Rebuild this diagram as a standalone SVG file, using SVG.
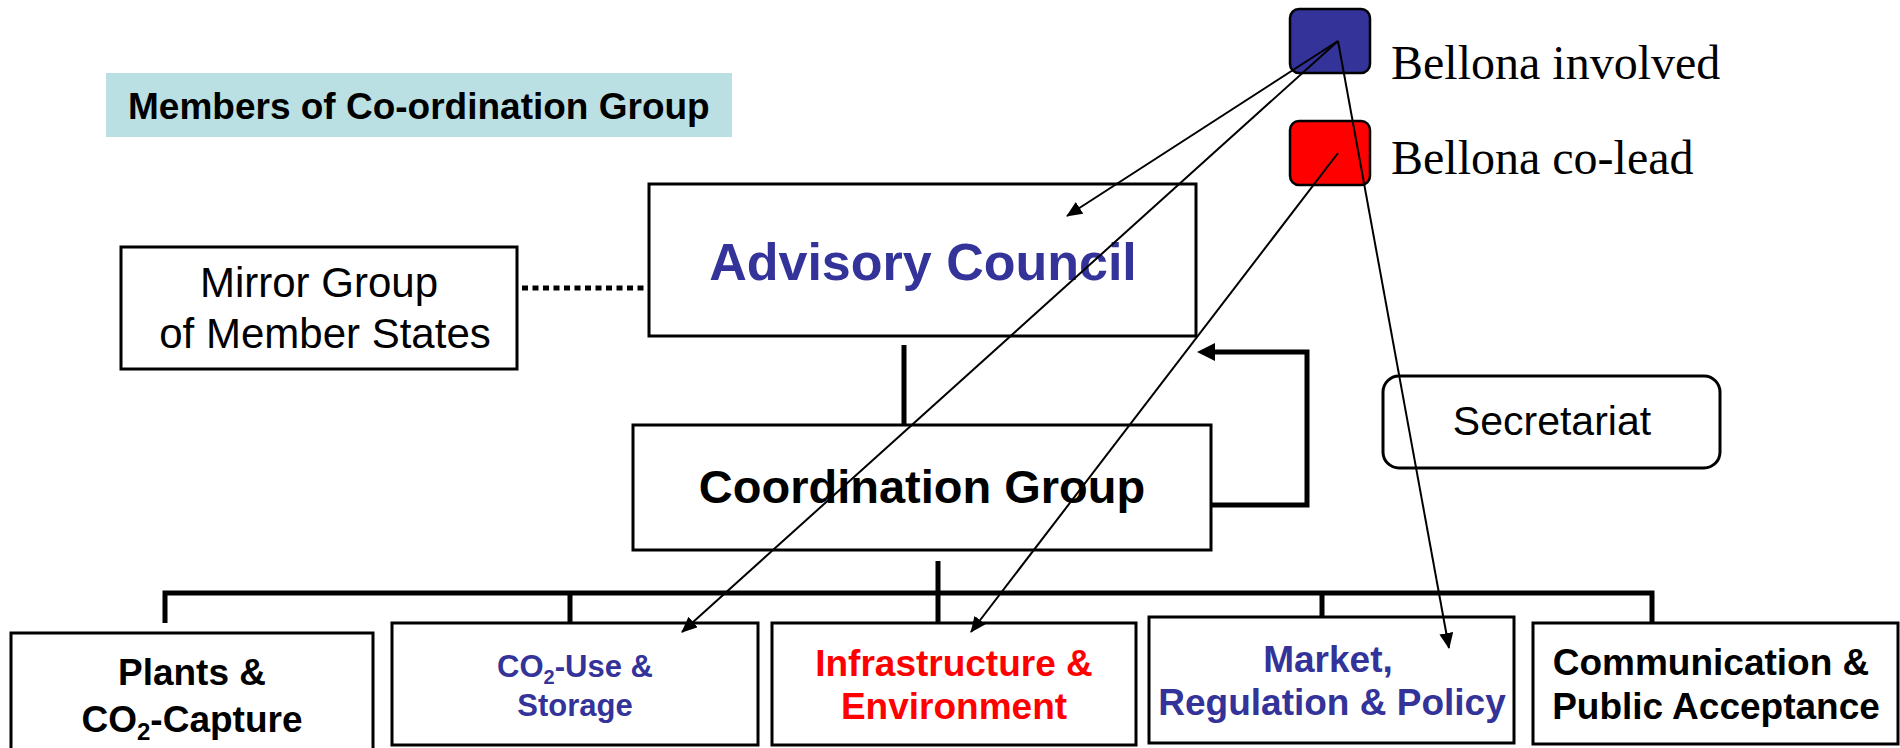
<svg xmlns="http://www.w3.org/2000/svg" width="1900" height="748" viewBox="0 0 1900 748">
<style>
.box{fill:#fff;stroke:#000;stroke-width:3}
.sans{font-family:"Liberation Sans",Arial,sans-serif}
.b{font-weight:bold}
.blue{fill:#333399}
.red{fill:#ff0000}
.blk{fill:#000}
.thin{stroke:#000;stroke-width:2;fill:none}
.thick{stroke:#000;stroke-width:5;fill:none}
</style>
<defs>
<marker id="ah" markerUnits="userSpaceOnUse" viewBox="0 0 16 14" refX="15" refY="7" markerWidth="16" markerHeight="14" orient="auto">
<path d="M0,0 L16,7 L0,14 z" fill="#000"/>
</marker>
<marker id="ahBig" markerUnits="userSpaceOnUse" viewBox="0 0 18 18" refX="0" refY="9" markerWidth="18" markerHeight="18" orient="auto">
<path d="M0,0 L18,9 L0,18 z" fill="#000"/>
</marker>
</defs>
<rect width="1900" height="748" fill="#fff"/>

<g id="legend-members">
<rect x="106" y="73" width="626" height="64" fill="#bbe0e3"/>
<text x="128" y="119" class="sans b blk" font-size="37">Members of Co-ordination Group</text>
</g>

<g id="legend-involved">
<rect x="1290" y="9" width="80" height="64" rx="9" fill="#333399" stroke="#000" stroke-width="2.5"/>
<text x="1391" y="79" font-family="'Liberation Serif','Times New Roman',serif" font-size="48" fill="#000">Bellona involved</text>
</g>

<g id="legend-colead">
<rect x="1290" y="121" width="80" height="64" rx="9" fill="#ff0000" stroke="#000" stroke-width="2.5"/>
<text x="1391" y="174" font-family="'Liberation Serif','Times New Roman',serif" font-size="48" fill="#000">Bellona co-lead</text>
</g>

<g id="mirror-group">
<rect class="box" x="121" y="247" width="396" height="122"/>
<text class="sans blk" font-size="42" text-anchor="middle"><tspan x="319" y="297">Mirror Group</tspan><tspan x="325" y="348">of Member States</tspan></text>
</g>

<g id="advisory-council">
<rect class="box" x="649" y="184" width="547" height="152"/>
<text x="923" y="280" class="sans b blue" font-size="52" text-anchor="middle">Advisory Council</text>
</g>

<g id="coordination-group">
<rect class="box" x="633" y="425" width="578" height="125"/>
<text x="922" y="503" class="sans b blk" font-size="47" text-anchor="middle">Coordination Group</text>
</g>

<g id="secretariat">
<rect x="1383" y="376" width="337" height="92" rx="16" fill="#fff" stroke="#000" stroke-width="3"/>
<text x="1552" y="435" class="sans blk" font-size="41" text-anchor="middle">Secretariat</text>
</g>

<g id="plants">
<rect class="box" x="11" y="633" width="362" height="140"/>
<text class="sans b blk" font-size="37" text-anchor="middle"><tspan x="192" y="685">Plants &amp;</tspan><tspan x="192" y="732">CO<tspan font-size="24" dy="8">2</tspan><tspan dy="-8">-Capture</tspan></tspan></text>
</g>

<g id="co2-use">
<rect class="box" x="392" y="623" width="366" height="122"/>
<text class="sans b blue" font-size="31" text-anchor="middle"><tspan x="575" y="677">CO<tspan font-size="20" dy="7">2</tspan><tspan dy="-7">-Use &amp;</tspan></tspan><tspan x="575" y="716">Storage</tspan></text>
</g>

<g id="infrastructure">
<rect class="box" x="772" y="623" width="364" height="122"/>
<text class="sans b red" font-size="37" text-anchor="middle"><tspan x="954" y="676">Infrastructure &amp;</tspan><tspan x="954" y="719">Environment</tspan></text>
</g>

<g id="market">
<rect class="box" x="1149" y="617" width="365" height="126"/>
<text class="sans b blue" font-size="37" text-anchor="middle"><tspan x="1328" y="672">Market,</tspan><tspan x="1332" y="715">Regulation &amp; Policy</tspan></text>
</g>

<g id="communication">
<rect class="box" x="1533" y="623" width="365" height="121"/>
<text class="sans b blk" font-size="37" text-anchor="middle"><tspan x="1711" y="675">Communication &amp;</tspan><tspan x="1716" y="719">Public Acceptance</tspan></text>
</g>

<g id="connectors">
<line x1="522" y1="288" x2="648" y2="288" stroke="#000" stroke-width="5" stroke-dasharray="6 4.5"/>
<line class="thick" x1="904" y1="345" x2="904" y2="425"/>
<polyline class="thick" points="1211,505 1307,505 1307,352 1215,352" marker-end="url(#ahBig)"/>
<line class="thick" x1="938" y1="561" x2="938" y2="623"/>
<polyline class="thick" points="165,623 165,593 1652,593 1652,622"/>
<line class="thick" x1="570" y1="593" x2="570" y2="623"/>
<line class="thick" x1="1322" y1="593" x2="1322" y2="617"/>
<line class="thin" x1="1338" y1="41" x2="1067" y2="216" marker-end="url(#ah)"/>
<line class="thin" x1="1338" y1="41" x2="682" y2="632" marker-end="url(#ah)"/>
<line class="thin" x1="1338" y1="153" x2="971" y2="632" marker-end="url(#ah)"/>
<line class="thin" x1="1338" y1="41" x2="1449" y2="648" marker-end="url(#ah)"/>
</g>
</svg>
